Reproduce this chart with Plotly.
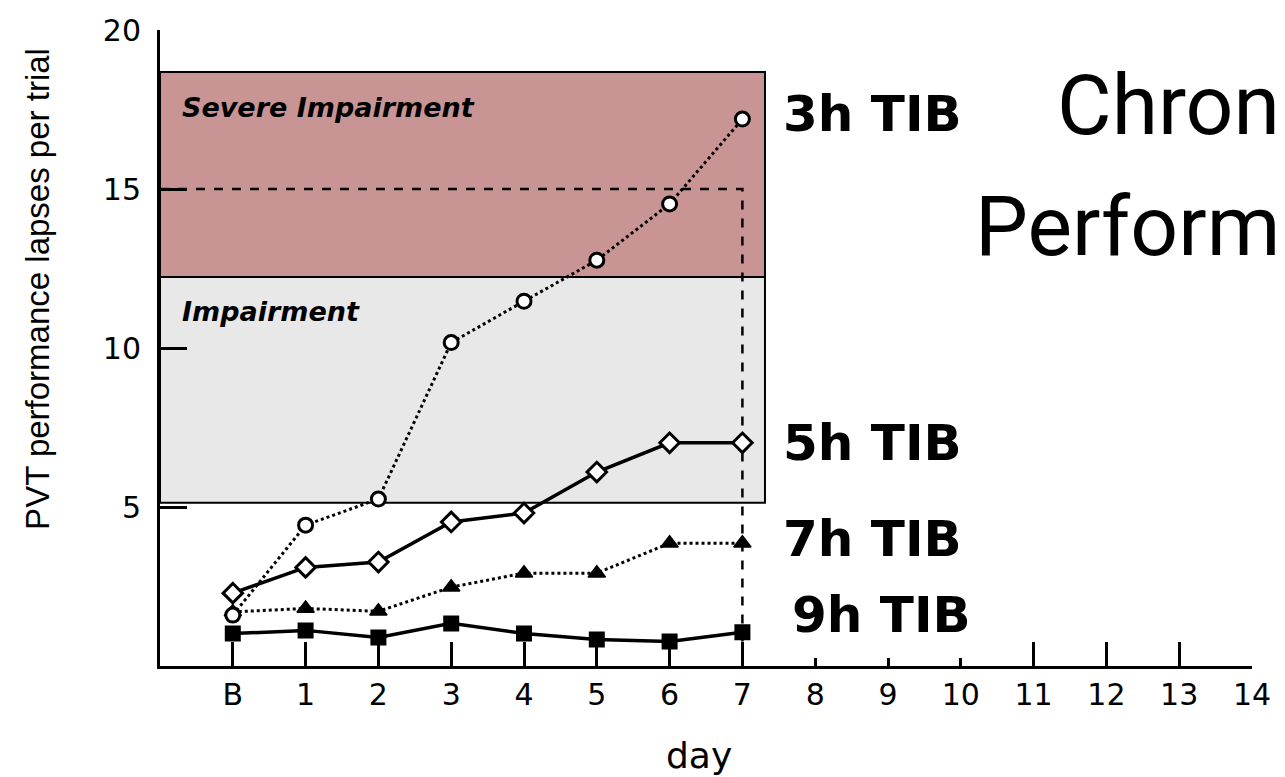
import plotly.graph_objects as go

# ---- data ----
day_labels = ["B", "1", "2", "3", "4", "5", "6", "7", "8", "9", "10", "11", "12", "13", "14"]
study_days = ["B", "1", "2", "3", "4", "5", "6", "7"]
lapses_3h = [1.6, 4.43, 5.25, 10.17, 11.47, 12.76, 14.53, 17.2]
lapses_5h = [2.29, 3.1, 3.27, 4.53, 4.81, 6.1, 7.02, 7.02]
lapses_7h = [1.7, 1.81, 1.72, 2.48, 2.92, 2.92, 3.86, 3.86]
lapses_9h = [1.02, 1.12, 0.9, 1.34, 1.02, 0.83, 0.77, 1.06]
y_ticks = [5, 10, 15, 20]
severe_band = [12.23, 18.68]
impair_band = [5.13, 12.23]
criterion_lapses = 15
criterion_day = 7

x_all = list(range(len(day_labels)))
x_study = [day_labels.index(d) for d in study_days]

fig = go.Figure()

# (name, values, symbol, fill, line dash, line width, marker size, marker line width)
series = [
    ("7h TIB", lapses_7h, "triangle-up", "black", "dot", 3, 15, 1.5),
    ("9h TIB", lapses_9h, "square", "black", "solid", 3.5, 14, 2),
    ("5h TIB", lapses_5h, "diamond", "white", "solid", 3.5, 15, 3),
    ("3h TIB", lapses_3h, "circle", "white", "dot", 3, 14, 3),
]
for name, vals, sym, fill, dash, lw, ms, mlw in series:
    fig.add_trace(go.Scatter(
        x=x_study, y=vals, mode="lines+markers", name=name,
        line=dict(color="black", width=lw, dash=dash),
        marker=dict(symbol=sym, size=ms, color=fill,
                    line=dict(color="black", width=mlw)),
        showlegend=False, xaxis="x", yaxis="y",
    ))

# invisible trace for overlay axis
fig.add_trace(go.Scatter(x=[x_all[0]], y=[0], mode="markers", marker=dict(opacity=0),
                         showlegend=False, xaxis="x2", yaxis="y", hoverinfo="skip"))

# shaded bands
fig.add_shape(type="rect", xref="x", yref="y", x0=-1, x1=7.31,
              y0=severe_band[0], y1=severe_band[1],
              fillcolor="#c99594", line=dict(color="black", width=2), layer="below")
fig.add_shape(type="rect", xref="x", yref="y", x0=-1, x1=7.31,
              y0=impair_band[0], y1=impair_band[1],
              fillcolor="#e8e8e8", line=dict(color="black", width=2), layer="below")
# criterion dashed line
fig.add_shape(type="path", xref="x", yref="y",
              path=f"M -1,{criterion_lapses} L {criterion_day},{criterion_lapses} L {criterion_day},0",
              line=dict(color="black", width=2.5, dash="dash"), layer="below")

bold = dict(family="DejaVu Sans", size=50, color="black")
for txt, xx, yy in [("3h TIB", 7.53, 17.36), ("5h TIB", 7.53, 7.01),
                    ("7h TIB", 7.53, 3.99), ("9h TIB", 7.65, 1.6)]:
    fig.add_annotation(text=f"<b>{txt}</b>", x=xx, y=yy, xref="x", yref="y",
                       xanchor="left", yanchor="middle", showarrow=False, font=bold)

ital = dict(family="DejaVu Sans", size=27, color="black")
fig.add_annotation(text="<b><i>Severe Impairment</i></b>", x=-0.72, y=17.55, xref="x", yref="y",
                   xanchor="left", yanchor="middle", showarrow=False, font=ital)
fig.add_annotation(text="<b><i>Impairment</i></b>", x=-0.72, y=11.16, xref="x", yref="y",
                   xanchor="left", yanchor="middle", showarrow=False, font=ital)

# axis titles
fig.add_annotation(text="PVT performance lapses per trial", x=-0.1117, y=0.593,
                   xref="paper", yref="paper", textangle=-90, showarrow=False,
                   xanchor="center", yanchor="middle",
                   font=dict(family="Liberation Sans", size=33, color="black"))
fig.add_annotation(text="day", x=6.4, y=-0.1415, xref="x", yref="paper", showarrow=False,
                   xanchor="center", yanchor="middle",
                   font=dict(family="DejaVu Sans", size=36, color="black"))

# slide title fragments visible at the right edge
title_font = dict(family="Roboto", size=84, color="black")
fig.add_annotation(text="Chron", x=1.0, xshift=30, y=0.882, xref="paper", yref="paper",
                   xanchor="right", yanchor="middle", showarrow=False, font=title_font)
fig.add_annotation(text="Perform", x=1.0, xshift=30, y=0.691, xref="paper", yref="paper",
                   xanchor="right", yanchor="middle", showarrow=False, font=title_font)

tickfont = dict(family="DejaVu Sans", size=30, color="black")
# page body has an 8px margin, so the figure is 8px smaller and margins shifted
fig.update_layout(
    width=1277, height=769,
    margin=dict(l=152, r=33, t=22, b=111, pad=0),
    paper_bgcolor="white", plot_bgcolor="white",
    xaxis=dict(range=[-1, 14], tickmode="array", tickvals=x_all, ticktext=day_labels,
               ticks="inside", ticklen=8, tickwidth=2.5, tickcolor="black",
               showline=True, linewidth=3, linecolor="black",
               showgrid=False, zeroline=False, tickfont=tickfont,
               ticklabelstandoff=0, automargin=False),
    xaxis2=dict(range=[-1, 14], overlaying="x", anchor="y", side="bottom",
                tickmode="array",
                tickvals=[x_all[i] for i in list(range(0, 8)) + list(range(11, 15))],
                ticks="inside", ticklen=24, tickwidth=2.5, tickcolor="black",
                showticklabels=False, showline=False, showgrid=False, zeroline=False,
                automargin=False),
    yaxis=dict(range=[0, 20], tickmode="array", tickvals=y_ticks,
               ticks="inside", ticklen=27, tickwidth=2.5, tickcolor="black",
               showline=True, linewidth=3, linecolor="black",
               showgrid=False, zeroline=False, tickfont=tickfont,
               ticklabelstandoff=10, automargin=False),
)

fig.write_html("out.html")
